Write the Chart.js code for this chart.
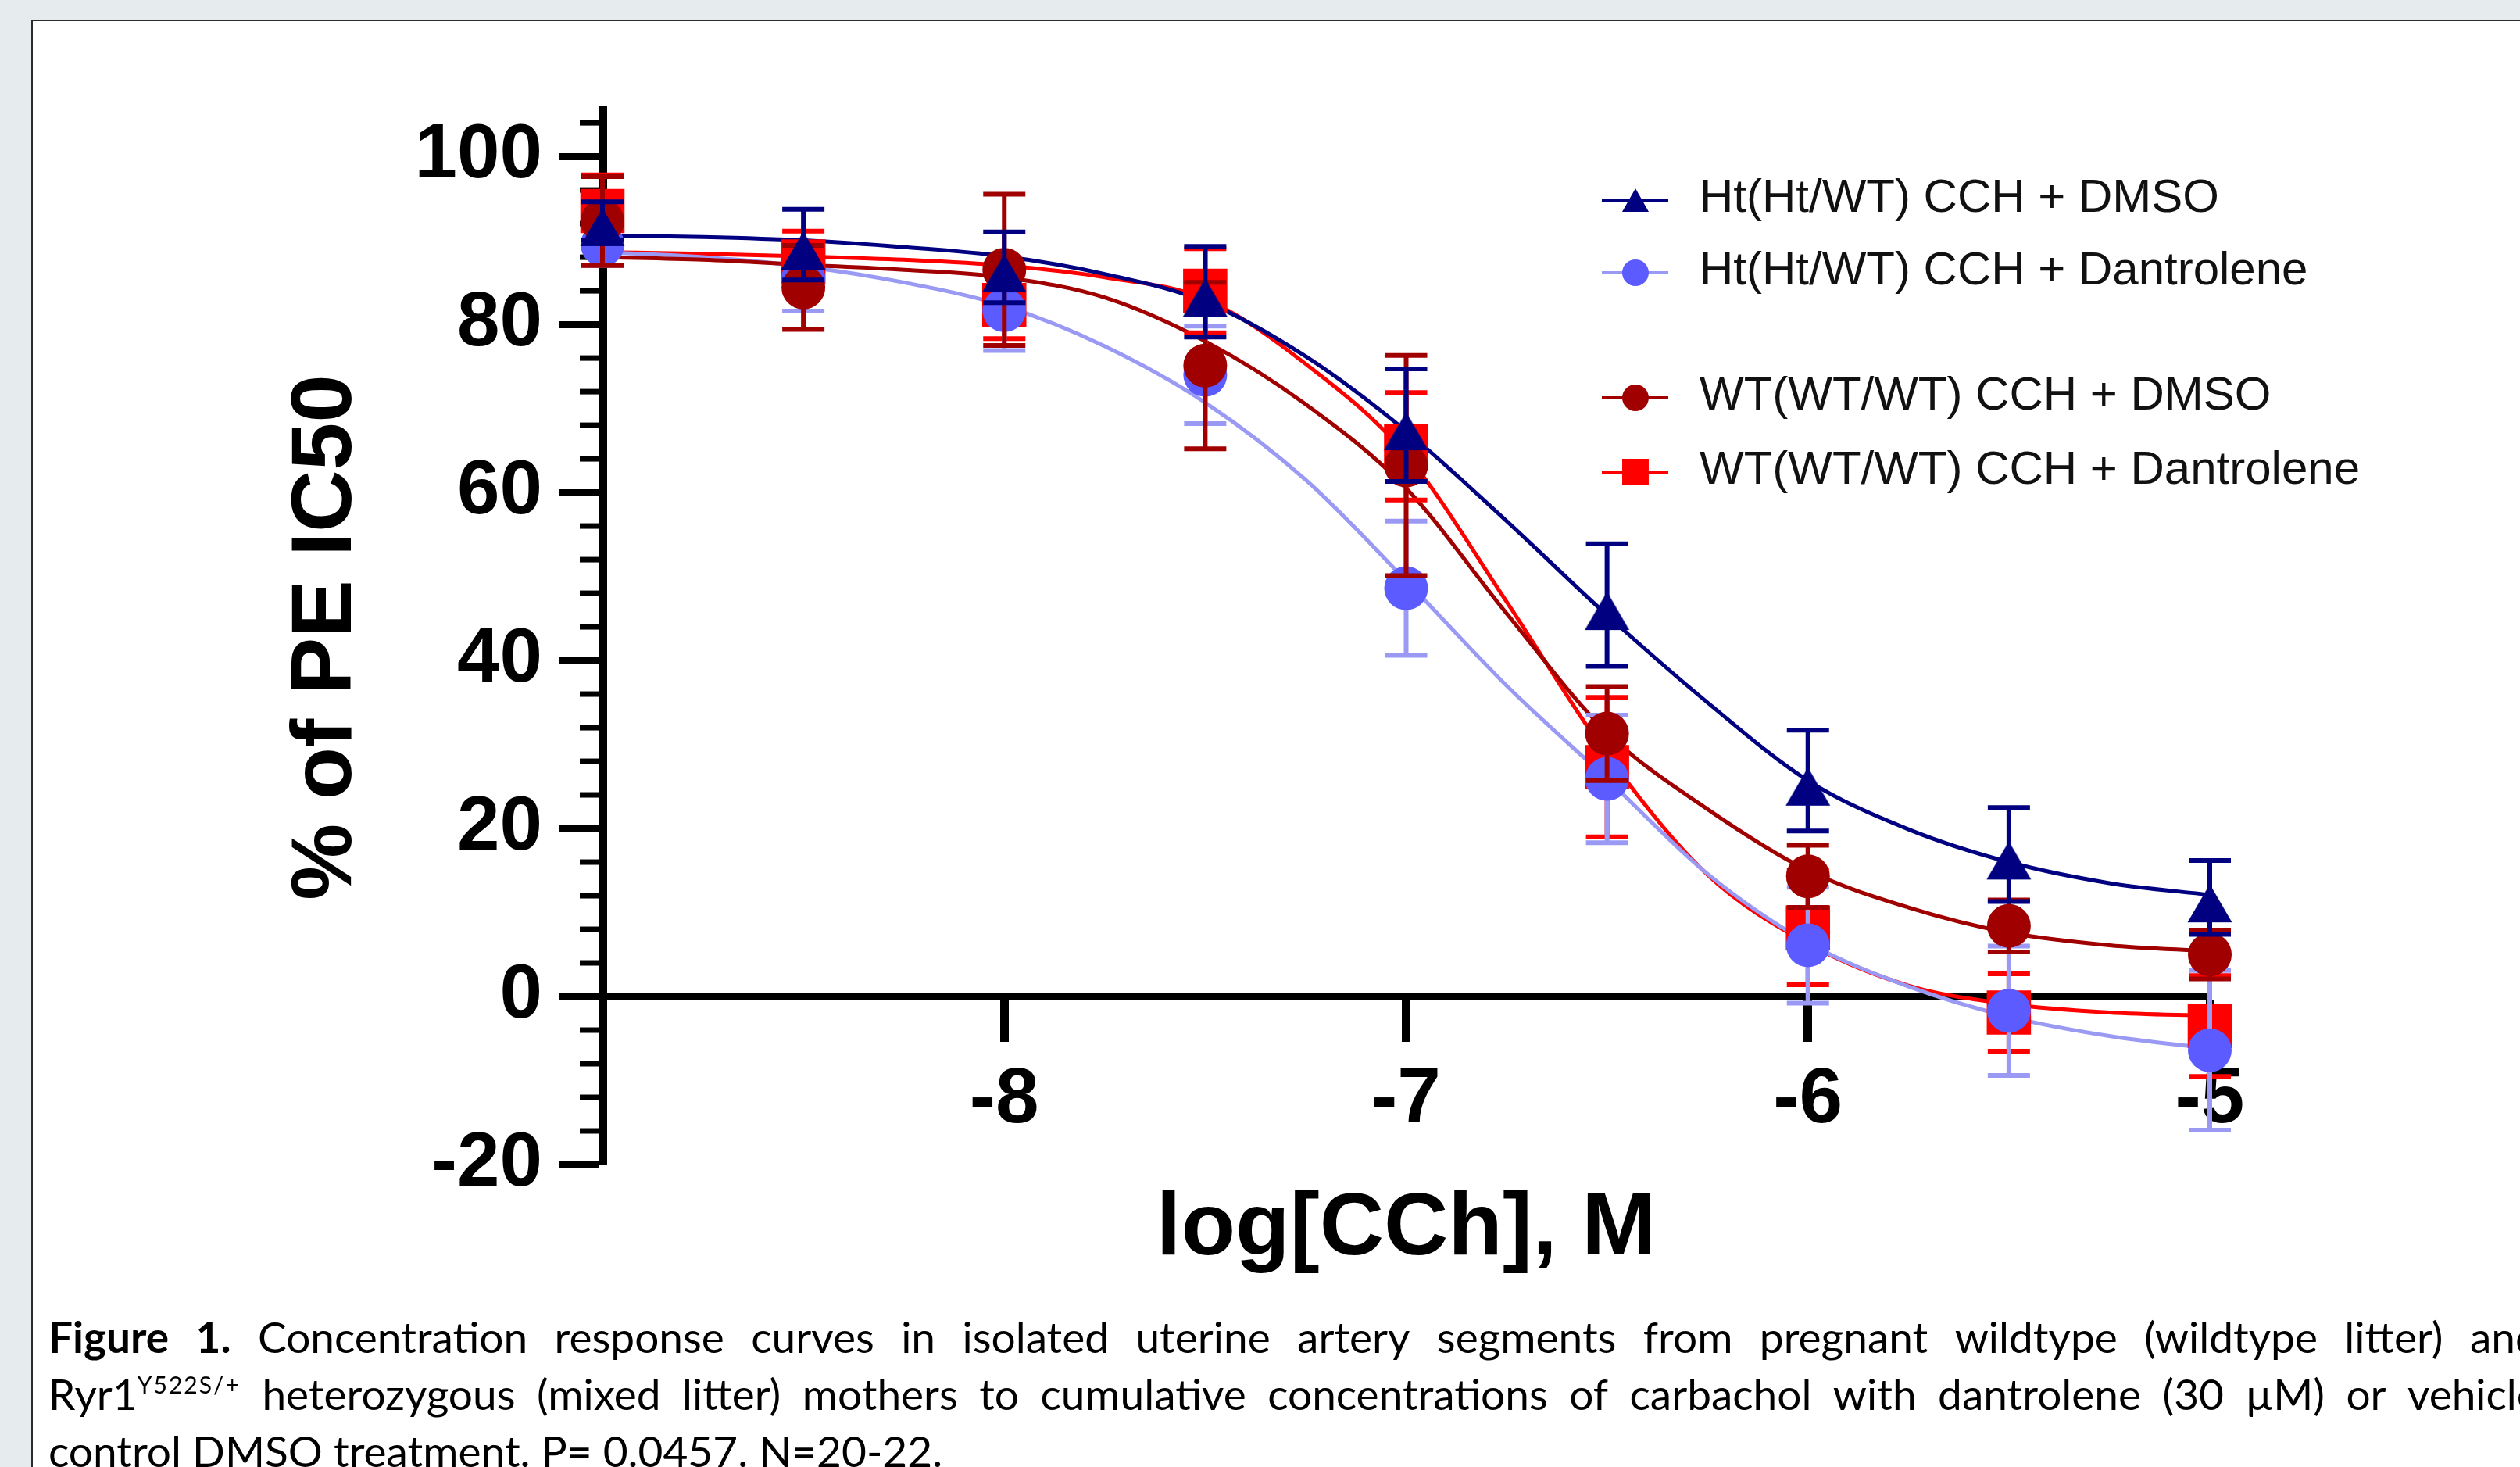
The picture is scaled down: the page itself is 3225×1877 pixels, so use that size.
<!DOCTYPE html>
<html>
<head>
<meta charset="utf-8">
<script src="https://cdn.jsdelivr.net/npm/chart.js@4.4.1/dist/chart.umd.min.js"></script>
<style>
html,body{margin:0;padding:0;width:3225px;height:1877px;overflow:hidden;background:#e6ebee;}
#box{position:absolute;left:40px;top:25px;width:3400px;height:2000px;background:#fff;border-left:2px solid #2a2a2a;border-top:2px solid #2a2a2a;}
#chart{position:absolute;left:0;top:0;z-index:1;}
.cap{position:absolute;left:62px;font-family:Lato,"Noto Sans",sans-serif;font-size:55px;line-height:73px;color:#000;white-space:nowrap;z-index:2;}
.just{width:3188px;display:flex;justify-content:space-between;}
.cap sup{font-size:30px;letter-spacing:2px;vertical-align:baseline;position:relative;top:-21px;}
</style>
</head>
<body>
<div id="box"></div>
<canvas id="chart" width="3225" height="1877"></canvas>
<div class="cap just" id="cap1" style="top:1674px"></div>
<div class="cap just" id="cap2" style="top:1747px"></div>
<div class="cap" id="cap3" style="top:1820px"></div>
<script>
// ---------- data ----------
const logConc = [-9, -8.5, -8, -7.5, -7, -6.5, -6, -5.5, -5];

const htDmsoMean = [92.3, 89.5, 86.8, 83.9, 68.0, 46.6, 25.7, 16.9, 11.8];
const htDmsoSem  = [2.3, 4.2, 4.2, 5.4, 6.7, 7.3, 6.0, 5.6, 4.4];

const htDantMean = [89.5, 85.5, 81.7, 74.0, 48.6, 25.9, 6.1, -1.7, -6.4];
const htDantSem  = [2.5, 3.9, 4.8, 5.8, 8.0, 7.6, 6.9, 7.7, 9.5];

const wtDmsoMean = [92.3, 84.4, 86.5, 75.1, 63.2, 31.3, 14.3, 8.4, 5.0];
const wtDmsoSem  = [5.3, 5.0, 9.0, 9.9, 13.1, 5.6, 3.7, 3.1, 2.9];

const wtDantMean = [93.5, 87.5, 82.3, 84.0, 65.5, 27.3, 8.2, -1.9, -3.5];
const wtDantSem  = [4.3, 3.6, 4.0, 5.0, 6.4, 8.3, 6.8, 4.6, 6.0];

// fitted curves
const fitLogConc = [-9, -8.75, -8.5, -8.25, -8, -7.75, -7.5, -7.25, -7, -6.75, -6.5, -6.25, -6, -5.75, -5.5, -5.25, -5];
const htDmsoFit = [90.6, 90.4, 90.0, 89.2, 88.1, 86.0, 82.7, 76.2, 67.3, 56.6, 45.4, 35.0, 25.7, 19.9, 16.0, 13.5, 12.1];
const htDantFit = [88.6, 88.0, 86.9, 85.0, 82.2, 77.4, 70.7, 61.5, 49.5, 37.0, 25.9, 14.6, 6.4, 1.2, -2.4, -4.7, -6.2];
const wtDmsoFit = [88.0, 87.7, 87.1, 86.5, 85.6, 83.2, 78.0, 70.5, 60.5, 45.6, 31.4, 22.3, 15.0, 10.6, 7.6, 6.1, 5.4];
const wtDantFit = [88.6, 88.4, 88.1, 87.7, 87.0, 85.6, 83.0, 75.3, 64.5, 47.0, 28.8, 14.5, 6.3, 1.3, -0.9, -1.9, -2.3];

const seriesLabels = ['Ht(Ht/WT) CCH + DMSO', 'Ht(Ht/WT) CCH + Dantrolene', 'WT(WT/WT) CCH + DMSO', 'WT(WT/WT) CCH + Dantrolene'];
const xTickLabels = [-8, -7, -6, -5];
const yTickLabels = [-20, 0, 20, 40, 60, 80, 100];
const xTitle = 'log[CCh], M';
const yTitle = '% of PE IC50';

const captionLine1 = '<b>Figure</b> <b>1.</b> Concentration response curves in isolated uterine artery segments from pregnant wildtype (wildtype litter) and';
const captionLine2 = 'Ryr1<sup>Y522S/+</sup> heterozygous (mixed litter) mothers to cumulative concentrations of carbachol with dantrolene (30 µM) or vehicle';
const captionLine3 = 'control DMSO treatment. P= 0.0457. N=20-22.';

// ---------- caption ----------
function fillJustified(el, html){ el.innerHTML = html.split(' ').map(w => '<span>' + w + '</span>').join(''); }
fillJustified(document.getElementById('cap1'), captionLine1);
fillJustified(document.getElementById('cap2'), captionLine2);
document.getElementById('cap3').textContent = captionLine3;

// ---------- styles ----------
const NAVY = '#000080', LIGHT = '#5b5bff', LIGHT_LINE = '#9a9af5', DARK = '#a00000', RED = '#ff0000';

// triangle glyph whose bounding box sits slightly below the data point (as in the original)
function makeTriangle(w, h, drop, color){
  const c = document.createElement('canvas');
  const S = Math.ceil(Math.max(w, h) + 2*Math.abs(drop) + 6);
  c.width = S; c.height = S;
  const g = c.getContext('2d');
  const cx = S/2, cy = S/2 + drop;
  g.fillStyle = color;
  g.beginPath();
  g.moveTo(cx, cy - h/2);
  g.lineTo(cx + w/2, cy + h/2);
  g.lineTo(cx - w/2, cy + h/2);
  g.closePath();
  g.fill();
  return c;
}
const triMarker = makeTriangle(57, 49, 7.5, NAVY);

function pts(xs, ys){ return xs.map((x, i) => ({x: x, y: ys[i]})); }

function pointSet(label, mean, sem, style, radius, color, errColor, order){
  return {label: label, data: pts(logConc, mean), errors: sem, errColor: errColor,
    showLine: false, pointStyle: style, pointRadius: radius, pointHoverRadius: radius,
    backgroundColor: color, borderColor: color, pointBorderWidth: 0, clip: false, order: order};
}
function curveSet(fit, color, order){
  return {label: '', data: pts(fitLogConc, fit), showLine: true, pointRadius: 0, pointHoverRadius: 0,
    borderColor: color, borderWidth: 5, cubicInterpolationMode: 'monotone', clip: false, order: order, fill: false};
}

const datasets = [
  pointSet(seriesLabels[0], htDmsoMean, htDmsoSem, triMarker, 31, NAVY, NAVY, 1),
  pointSet(seriesLabels[2], wtDmsoMean, wtDmsoSem, 'circle', 28, DARK, DARK, 2),
  pointSet(seriesLabels[1], htDantMean, htDantSem, 'circle', 28, LIGHT, LIGHT_LINE, 3),
  pointSet(seriesLabels[3], wtDantMean, wtDantSem, 'rect', 40, RED, RED, 4),
  curveSet(htDmsoFit, NAVY, 5),
  curveSet(wtDmsoFit, DARK, 6),
  curveSet(htDantFit, LIGHT_LINE, 7),
  curveSet(wtDantFit, RED, 8)
];

// ---------- plugins ----------
const errorBars = {
  id: 'errorBars',
  beforeDatasetDraw(chart, args){
    const ds = chart.data.datasets[args.index];
    if (!ds.errors) return;
    const ctx = chart.ctx, xs = chart.scales.x, ys = chart.scales.y;
    ctx.save();
    ctx.strokeStyle = ds.errColor; ctx.lineWidth = 6; ctx.lineCap = 'butt';
    ds.data.forEach((p, i) => {
      const e = ds.errors[i];
      const px = xs.getPixelForValue(p.x);
      const t = ys.getPixelForValue(p.y + e), b = ys.getPixelForValue(p.y - e);
      ctx.beginPath();
      ctx.moveTo(px, t); ctx.lineTo(px, b);
      ctx.moveTo(px - 27, t); ctx.lineTo(px + 27, t);
      ctx.moveTo(px - 27, b); ctx.lineTo(px + 27, b);
      ctx.stroke();
    });
    ctx.restore();
  }
};

const minorTicks = {
  id: 'minorTicks',
  beforeDatasetsDraw(chart){
    const ys = chart.scales.y, ctx = chart.ctx;
    const x0 = chart.chartArea.left;
    ctx.save();
    ctx.strokeStyle = '#000'; ctx.lineWidth = 7;
    ys.ticks.forEach(t => {
      if (yTickLabels.includes(t.value)) return;
      const py = ys.getPixelForValue(t.value);
      ctx.beginPath(); ctx.moveTo(x0 - 29, py); ctx.lineTo(x0 - 4, py); ctx.stroke();
    });
    ctx.restore();
  }
};

const customLegend = {
  id: 'customLegend',
  afterDraw(chart){
    const ctx = chart.ctx;
    const rows = [
      {y: 256, label: seriesLabels[0], line: NAVY, fill: NAVY, style: 'tri'},
      {y: 349, label: seriesLabels[1], line: LIGHT_LINE, fill: LIGHT, style: 'circle', r: 17},
      {y: 509, label: seriesLabels[2], line: DARK, fill: DARK, style: 'circle', r: 17},
      {y: 604, label: seriesLabels[3], line: RED, fill: RED, style: 'rect', r: 24}
    ];
    const lx0 = 2050, lx1 = 2135, mx = 2093, tx = 2175;
    ctx.save();
    rows.forEach(row => {
      ctx.strokeStyle = row.line; ctx.lineWidth = 4;
      ctx.beginPath(); ctx.moveTo(lx0, row.y); ctx.lineTo(lx1, row.y); ctx.stroke();
      ctx.fillStyle = row.fill;
      if (row.style === 'tri') {
        ctx.beginPath();
        ctx.moveTo(mx, row.y - 15); ctx.lineTo(mx + 17, row.y + 15); ctx.lineTo(mx - 17, row.y + 15);
        ctx.closePath(); ctx.fill();
      } else {
        Chart.helpers.drawPoint(ctx, {pointStyle: row.style, radius: row.r, rotation: 0, borderWidth: 0}, mx, row.y);
      }
      ctx.fillStyle = '#111';
      ctx.font = '60px "Liberation Sans", Arial, sans-serif';
      ctx.textAlign = 'left'; ctx.textBaseline = 'middle';
      ctx.fillText(row.label, tx, row.y - 2);
    });
    ctx.restore();
  }
};

// ---------- chart ----------
new Chart(document.getElementById('chart'), {
  type: 'scatter',
  data: {datasets: datasets},
  plugins: [errorBars, minorTicks, customLegend],
  options: {
    responsive: false, animation: false, devicePixelRatio: 1, events: [],
    layout: {padding: {left: 300, right: 397, top: 141, bottom: 237}},
    plugins: {legend: {display: false}, tooltip: {enabled: false}},
    scales: {
      x: {
        type: 'linear', position: {y: 0}, min: -9, max: -5,
        ticks: {stepSize: 1, autoSkip: false, maxRotation: 0, minRotation: 0, padding: 20, color: '#000',
          font: {family: 'Liberation Sans', weight: 'bold', size: 100},
          callback: v => xTickLabels.includes(v) ? String(v) : ''},
        grid: {display: true, drawOnChartArea: false, drawTicks: true, tickLength: 53,
          tickWidth: c => (c.tick && xTickLabels.includes(c.tick.value)) ? 11 : 0, tickColor: '#000'},
        border: {display: true, width: 10, color: '#000'},
        title: {display: false}
      },
      x2: {
        type: 'linear', position: 'bottom', min: -9, max: -5,
        ticks: {display: false}, grid: {display: false}, border: {display: false},
        title: {display: true, text: xTitle, color: '#000',
          font: {family: 'Liberation Sans', weight: 'bold', size: 114, lineHeight: 1}, padding: {top: 0, bottom: 9}},
        afterFit: s => { s.height = 150; }
      },
      y: {
        type: 'linear', position: 'left', min: -20, max: 105.5,
        ticks: {stepSize: 4, includeBounds: false, autoSkip: false, padding: 21, color: '#000',
          font: {family: 'Liberation Sans', weight: 'bold', size: 98},
          callback: v => yTickLabels.includes(v) ? String(v) : ''},
        grid: {display: true, drawOnChartArea: false, drawTicks: true, tickLength: 56,
          tickWidth: c => (c.tick && yTickLabels.includes(c.tick.value)) ? 9 : 0, tickColor: '#000'},
        border: {display: true, width: 11, color: '#000'},
        title: {display: true, text: yTitle, color: '#000',
          font: {family: 'Liberation Sans', weight: 'bold', size: 110, lineHeight: 1}, padding: {top: 64, bottom: 0}},
        afterFit: s => { s.width = 471; }
      }
    }
  }
});
</script>
</body>
</html>
